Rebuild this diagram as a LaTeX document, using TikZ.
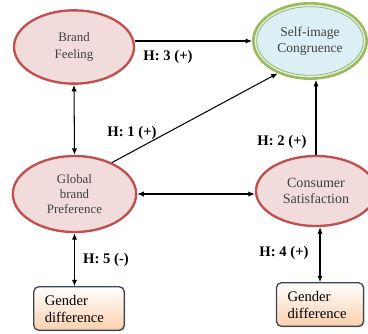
\documentclass[tikz,border=0pt]{standalone}
\usepackage{fontspec}
\setmainfont{Liberation Serif}
\definecolor{CSTred}{HTML}{C0504D}
\definecolor{CSTpink}{HTML}{F2DCDB}
\definecolor{CSTtext}{HTML}{404040}
\definecolor{SICgreen}{HTML}{9BBB59}
\definecolor{SICblue}{HTML}{DCEFF5}
\definecolor{GENdraw}{HTML}{3B4453}
\definecolor{GENpeach}{HTML}{FAD0AE}
\usetikzlibrary{arrows.meta, shapes.geometric, shadows, calc}

\begin{document}
\begin{tikzpicture}[x=0.03cm, y=-0.03cm,
      construct/.style={ellipse, draw=CSTred, line width=2pt, fill=CSTpink, text=CSTtext,
         align=center, inner sep=1pt, font=\fontsize{11}{14}\selectfont},
      gender/.style={rectangle, rounded corners=4pt, draw=GENdraw, line width=1.1pt,
         top color=white, bottom color=GENpeach, align=left, inner xsep=0.33cm,
         text width=2.05cm, minimum height=1.3cm, font=\fontsize{12.5}{14.5}\selectfont,
         drop shadow={opacity=0.35, shadow xshift=1pt, shadow yshift=-1pt}},
      hyp/.style={font=\fontsize{12.5}{15}\selectfont\bfseries},
      link/.style={-{Latex[length=5.5pt,width=4.5pt]}, line width=0.9pt},
      twoway/.style={{Latex[length=5.5pt,width=4.5pt]}-{Latex[length=5.5pt,width=4.5pt]}, line width=0.9pt}]
      \useasboundingbox (0,0) rectangle (368,333);
      % Constructs
      \node[construct, minimum width=3.6cm, minimum height=2.2cm] (bf) at (74,47) {Brand\\Feeling};
      \node[construct, minimum width=3.7cm, minimum height=2.28cm, font=\fontsize{11}{12.5}\selectfont] (gbp) at (74.5,194) {Global\\brand\\Preference};
      \node[construct, minimum width=3.6cm, minimum height=2.1cm, font=\fontsize{12}{14}\selectfont] (cs) at (316,191) {Consumer\\Satisfaction};
      % Outcome (double green rim)
      \node[ellipse, draw=SICgreen, line width=2.2pt, fill=SICblue, text=CSTtext, align=center,
         minimum width=3.4cm, minimum height=2.26cm, font=\fontsize{11.5}{14}\selectfont] (sic) at (310,41) {Self-image\\Congruence};
      \draw[SICgreen, line width=0.7pt] (sic.center) ellipse [x radius=1.6cm, y radius=1.03cm];
      % Moderators
      \node[gender] (gdl) at (79,308.5) {Gender\\difference};
      \node[gender, text width=1.95cm] (gdr) at (320,304.5) {Gender\\difference};
      % Hypotheses
      \draw[link] (bf.east |- sic.west) -- (sic.west);
      \draw[twoway] (bf.south) -- (gbp.north);
      \draw[link] (gbp.40) -- (sic.225);
      \draw[link] (cs.north) -- (cs.north |- sic.south);
      \draw[twoway] (gbp.east) -- (cs.west |- gbp.east);
      \draw[twoway] (gbp.south) -- (gbp.south |- gdl.north);
      \draw[twoway] (cs.south -| gdr.north) -- (gdr.north);
      % Labels
      \node[hyp] (h3) at (168,57) {H: 3 (+)};
      \node[hyp] (h1) at (132,133) {H: 1 (+)};
      \node[hyp] (h2) at (282,142) {H: 2 (+)};
      \node[hyp] (h5) at (106,260) {H: 5 (-)};
      \node[hyp] (h4) at (284,253) {H: 4 (+)};
   \end{tikzpicture}
\end{document}
